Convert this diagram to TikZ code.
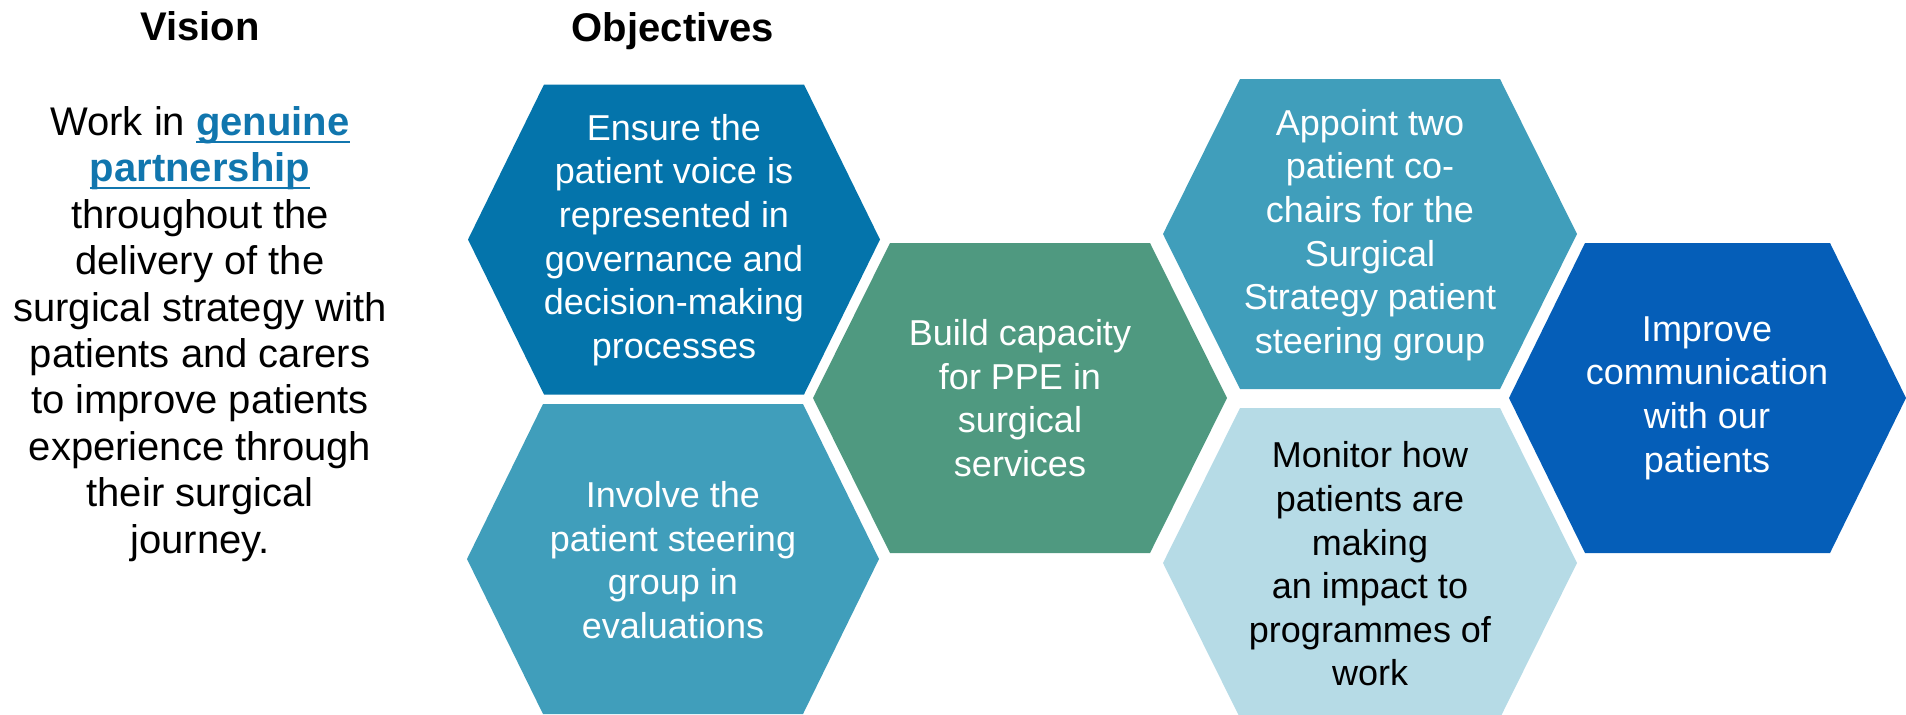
\documentclass[tikz,border=0pt]{standalone}
\usepackage{fontspec}
\setmainfont{Liberation Sans}
\definecolor{deepblue}{HTML}{0474AB}
\definecolor{tealblue}{HTML}{409EBB}
\definecolor{sage}{HTML}{4F9980}
\definecolor{paleblue}{HTML}{B6DBE6}
\definecolor{royal}{HTML}{055EB8}
\definecolor{linkblue}{HTML}{1176AE}
% colour, centre, half width, half top edge
\newcommand{\hexcell}[4]{%
  \fill[#1,shift={(#2)}] (-#3,0) -- (-#4,-155) -- (#4,-155) -- (#3,0) -- (#4,155) -- (-#4,155) -- cycle;}
% bold underlined link text
\newcommand{\linktext}[1]{%
  \setbox0\hbox{\bfseries #1}\textcolor{linkblue}{\rlap{\rule[-3.6pt]{\wd0}{0.9pt}}\box0}}
\begin{document}
\begin{tikzpicture}[x=0.5pt,y=-0.5pt]
\tikzstyle{every node}=[inner sep=0pt,align=center]
\tikzstyle{head}=[font=\fontsize{20}{24}\selectfont\bfseries,anchor=base]
\tikzstyle{hextext}=[text=white,font=\fontsize{18}{21.8}\selectfont]
\useasboundingbox (0,0) rectangle (1906,714);
\begin{scope}
\clip (0,0) rectangle (1906,714);
\hexcell{deepblue}{674,239.5}{206}{130}
\hexcell{tealblue}{673,559}{206}{130}
\hexcell{sage}{1020,398}{207}{130}
\hexcell{tealblue}{1370,234}{207}{130}
\hexcell{paleblue}{1370,563}{207}{130}
\hexcell{royal}{1707.5,398}{198.5}{122.5}
\end{scope}
\node[head] (vision) at (200,40) {Vision};
\node[head] (objectives) at (673,41) {Objectives};
\node[font=\fontsize{20}{23.2}\selectfont] (visiontext) at (200,334)
  {Work in \linktext{genuine}\\
   \linktext{partnership}\\
   throughout the\\delivery of the\\surgical strategy with\\patients and carers\\
   to improve patients\\experience through\\their surgical\\journey.};
\node[hextext] (ensure) at (674,240) {Ensure the\\patient voice is\\represented in\\governance and\\decision-making\\processes};
\node[hextext] (involve) at (673,560) {Involve the\\patient steering\\group in\\evaluations};
\node[hextext] (build) at (1020,398) {Build capacity\\for PPE in\\surgical\\services};
\node[hextext] (appoint) at (1370,235) {Appoint two\\patient co-\\chairs for the\\Surgical\\Strategy patient\\steering group};
\node[hextext,text=black] (monitor) at (1370,564) {Monitor how\\patients are\\making\\an impact to\\programmes of\\work};
\node[hextext] (improve) at (1707,398) {Improve\\communication\\with our\\patients};
\end{tikzpicture}
\end{document}
